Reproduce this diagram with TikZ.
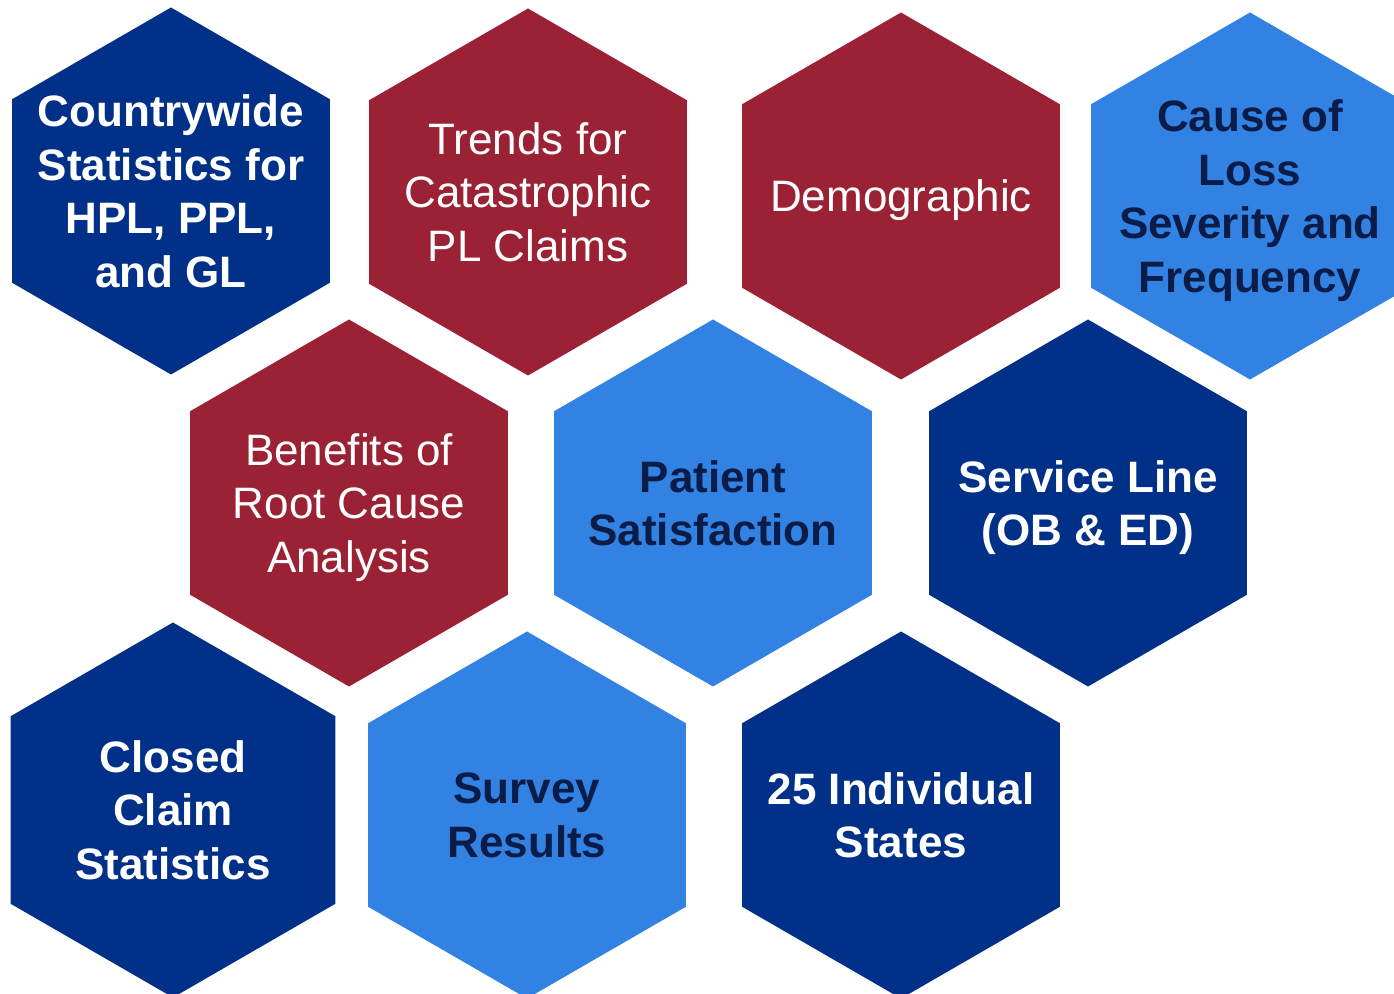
\documentclass[tikz,border=0pt]{standalone}
\usepackage{fontspec}
\setmainfont{Liberation Sans}
\usetikzlibrary{shapes.geometric}

\definecolor{hexnavy}{RGB}{0,48,135}
\definecolor{hexred}{RGB}{155,34,52}
\definecolor{hexsky}{RGB}{49,130,226}
\definecolor{inknavy}{RGB}{12,28,72}

\begin{document}
\begin{tikzpicture}[
    x=0.5pt,
    y=-0.5pt,
    hexcell/.style={
        regular polygon,
        regular polygon sides=6,
        shape border rotate=30,
        minimum size=183.5pt,
        inner sep=0pt,
        outer sep=0pt
    },
    hexlabel/.style={
        align=center,
        inner sep=0pt,
        text depth=0pt,
        text=white,
        font=\fontsize{22}{26.75}\selectfont\bfseries
    },
    thinlabel/.style={
        hexlabel,
        font=\fontsize{22}{26.75}\selectfont
    },
    darklabel/.style={
        hexlabel,
        text=inknavy
    }
]
    \useasboundingbox (0,0) rectangle (1394,994);

    % --- Top row ---
    \node[hexcell, fill=hexnavy] (countrywide) at (171,191) {};
    \node[hexlabel] (countrywide-text) at (countrywide)
        {Countrywide\\Statistics for\\HPL, PPL,\\and GL};

    \node[hexcell, fill=hexred] (trends) at (528,192) {};
    \node[thinlabel] (trends-text) at (trends)
        {Trends for\\Catastrophic\\PL Claims};

    \node[hexcell, fill=hexred] (demographic) at (901,196) {};
    \node[thinlabel] (demographic-text) at (demographic) {Demographic};

    \node[hexcell, fill=hexsky] (cause) at (1250,196) {};
    \node[darklabel] (cause-text) at (cause)
        {Cause of\\Loss\\Severity and\\Frequency};

    % --- Middle row ---
    \node[hexcell, fill=hexred] (benefits) at (349,503) {};
    \node[thinlabel] (benefits-text) at (benefits)
        {Benefits of\\Root Cause\\Analysis};

    \node[hexcell, fill=hexsky] (patient) at (713,503) {};
    \node[darklabel] (patient-text) at (patient)
        {Patient\\Satisfaction};

    \node[hexcell, fill=hexnavy] (service) at (1088,503) {};
    \node[hexlabel] (service-text) at (service)
        {Service Line\\(OB \& ED)};

    % --- Bottom row ---
    \node[hexcell, fill=hexnavy, minimum size=187.5pt] (closed) at (173,810) {};
    \node[hexlabel] (closed-text) at (closed)
        {Closed\\Claim\\Statistics};

    \node[hexcell, fill=hexsky] (survey) at (527,815) {};
    \node[darklabel] (survey-text) at (survey)
        {Survey\\Results};

    \node[hexcell, fill=hexnavy] (states) at (901,815) {};
    \node[hexlabel] (states-text) at (states)
        {25 Individual\\States};
\end{tikzpicture}
\end{document}
